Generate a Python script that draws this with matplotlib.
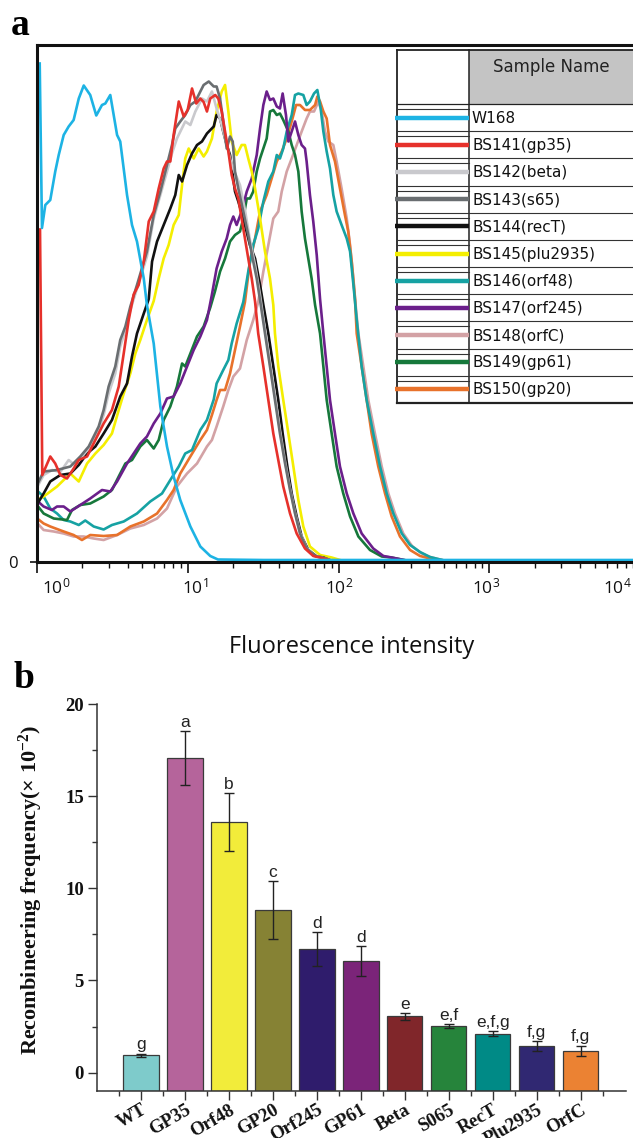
import numpy as np
import matplotlib
matplotlib.use("Agg")
import matplotlib.pyplot as plt
from matplotlib.transforms import ScaledTranslation
from matplotlib.ticker import LogLocator, NullFormatter, FixedLocator
from matplotlib.patches import Rectangle

plt.rcParams['mathtext.default'] = 'regular'

# ---------------- Panel a data: log10 fluorescence intensity vs. count ----------------
w168_lg = [0.018, 0.033, 0.055, 0.088, 0.121, 0.144, 0.177, 0.210, 0.243, 0.277, 0.310, 0.353, 0.393, 0.431, 0.453, 0.486, 0.531, 0.552, 0.597, 0.630, 0.663, 0.708, 0.729, 0.774, 0.818, 0.862, 0.906, 0.950, 1.017, 1.083, 1.149, 1.200, 1.5, 2.5, 3.95]
w168_ct = [99.7, 66.8, 71.4, 72.4, 78.1, 81.4, 85.4, 87.1, 88.4, 92.7, 95.3, 93.4, 89.3, 91.4, 91.7, 93.4, 85.4, 84.1, 73.4, 67.4, 64.1, 56.7, 51.4, 43.7, 31.1, 23.1, 17.1, 12.4, 7.1, 3.1, 1.2, 0.5, 0.4, 0.4, 0.4]

bs141_lg = [0.02, 0.035, 0.088, 0.121, 0.155, 0.199, 0.243, 0.277, 0.332, 0.387, 0.442, 0.497, 0.542, 0.575, 0.608, 0.641, 0.674, 0.708, 0.741, 0.774, 0.807, 0.840, 0.862, 0.884, 0.906, 0.940, 0.973, 0.999, 1.028, 1.056, 1.083, 1.105, 1.127, 1.149, 1.182, 1.202, 1.225, 1.247, 1.269, 1.291, 1.313, 1.335, 1.357, 1.379, 1.401, 1.424, 1.446, 1.467, 1.501, 1.534, 1.567, 1.600, 1.633, 1.678, 1.722, 1.777, 1.832, 1.877, 1.95, 3.95]
bs141_ct = [66.5, 17.4, 21.1, 19.7, 17.4, 16.7, 18.7, 20.4, 21.1, 24.4, 27.7, 30.4, 35.1, 41.7, 48.4, 53.5, 55.4, 60.1, 68.1, 70.1, 74.7, 78.7, 80.1, 80.1, 85.4, 92.1, 89.1, 90.4, 94.7, 91.7, 92.7, 92.0, 90.1, 92.7, 93.4, 92.7, 90.1, 86.1, 82.1, 77.4, 74.7, 72.7, 68.7, 64.7, 60.7, 56.7, 52.1, 45.7, 39.1, 32.4, 25.7, 20.4, 15.1, 9.7, 5.7, 2.7, 1.2, 0.9, 0.3, 0.3]

bs142_lg = [0.01, 0.044, 0.1, 0.155, 0.21, 0.25, 0.287, 0.343, 0.409, 0.442, 0.475, 0.519, 0.552, 0.586, 0.619, 0.663, 0.729, 0.774, 0.818, 0.862, 0.895, 0.928, 0.983, 1.017, 1.050, 1.094, 1.127, 1.160, 1.191, 1.225, 1.258, 1.291, 1.346, 1.379, 1.412, 1.446, 1.479, 1.512, 1.545, 1.578, 1.611, 1.645, 1.678, 1.711, 1.744, 1.788, 1.844, 1.888, 1.95, 3.95]
bs142_ct = [15.5, 17.4, 18.4, 18.0, 20.4, 19.4, 20.7, 22.7, 26.4, 29.4, 33.7, 37.7, 43.1, 46.4, 50.4, 54.7, 61.1, 68.7, 73.4, 78.1, 81.7, 84.7, 88.1, 87.4, 90.1, 92.7, 92.1, 94.1, 90.7, 87.4, 83.4, 79.4, 75.4, 70.4, 64.4, 59.4, 53.4, 46.4, 39.7, 33.1, 26.4, 20.1, 14.7, 9.9, 5.9, 2.8, 1.2, 0.9, 0.3, 0.3]

bs143_lg = [0.01, 0.044, 0.133, 0.221, 0.287, 0.343, 0.409, 0.442, 0.475, 0.519, 0.552, 0.586, 0.619, 0.663, 0.729, 0.774, 0.818, 0.862, 0.895, 0.917, 0.950, 0.983, 1.017, 1.050, 1.083, 1.105, 1.139, 1.172, 1.191, 1.214, 1.235, 1.258, 1.280, 1.298, 1.313, 1.335, 1.368, 1.401, 1.434, 1.457, 1.479, 1.512, 1.545, 1.578, 1.611, 1.645, 1.678, 1.711, 1.744, 1.788, 1.844, 1.888, 1.95, 3.95]
bs143_ct = [16.0, 18.1, 18.4, 19.1, 21.1, 23.1, 27.1, 30.4, 35.1, 39.1, 44.4, 47.1, 51.1, 55.4, 62.1, 69.4, 74.1, 79.4, 83.4, 86.7, 88.1, 89.4, 91.4, 92.1, 94.1, 95.4, 96.1, 95.1, 95.1, 92.7, 88.1, 82.7, 85.1, 84.1, 78.1, 74.7, 70.1, 65.4, 60.1, 56.7, 52.4, 45.7, 39.1, 32.4, 25.7, 19.7, 14.4, 9.7, 5.7, 2.7, 1.2, 0.9, 0.3, 0.3]

bs144_lg = [0.01, 0.044, 0.088, 0.155, 0.221, 0.277, 0.332, 0.387, 0.442, 0.497, 0.552, 0.597, 0.630, 0.663, 0.708, 0.741, 0.763, 0.796, 0.840, 0.884, 0.917, 0.940, 0.962, 0.995, 1.028, 1.061, 1.094, 1.127, 1.172, 1.191, 1.214, 1.235, 1.258, 1.280, 1.313, 1.335, 1.368, 1.412, 1.446, 1.479, 1.501, 1.534, 1.567, 1.600, 1.629, 1.660, 1.689, 1.722, 1.755, 1.799, 1.855, 1.899, 1.95, 3.95]
bs144_ct = [12.0, 13.7, 16.1, 17.4, 17.7, 19.4, 21.7, 23.1, 25.7, 28.4, 33.1, 35.7, 41.1, 45.7, 49.7, 52.6, 60.1, 64.1, 67.4, 70.7, 73.4, 77.4, 76.1, 79.4, 81.7, 83.4, 84.1, 85.7, 87.1, 89.4, 88.7, 86.1, 83.4, 81.4, 74.1, 72.1, 68.7, 63.4, 60.7, 55.4, 51.4, 45.7, 39.1, 32.4, 25.7, 19.1, 13.7, 9.1, 5.1, 2.4, 1.1, 0.9, 0.3, 0.3]

bs145_lg = [0.01, 0.044, 0.133, 0.221, 0.277, 0.332, 0.387, 0.442, 0.497, 0.542, 0.575, 0.619, 0.652, 0.685, 0.729, 0.774, 0.807, 0.840, 0.873, 0.906, 0.940, 0.962, 0.983, 1.006, 1.039, 1.072, 1.105, 1.127, 1.160, 1.191, 1.225, 1.247, 1.269, 1.291, 1.324, 1.357, 1.379, 1.401, 1.424, 1.446, 1.479, 1.512, 1.545, 1.567, 1.578, 1.600, 1.633, 1.667, 1.700, 1.733, 1.766, 1.810, 1.877, 1.954, 2.02, 3.95]
bs145_ct = [12.5, 13.1, 15.1, 17.7, 16.1, 19.7, 21.7, 23.4, 25.7, 30.4, 33.7, 37.7, 41.7, 44.4, 48.4, 52.2, 56.7, 60.7, 63.4, 67.4, 69.4, 75.4, 80.7, 82.7, 80.7, 82.7, 81.1, 82.1, 84.7, 90.1, 94.1, 95.4, 90.1, 84.1, 81.4, 83.4, 83.4, 80.7, 78.1, 74.7, 68.7, 62.1, 56.7, 51.4, 45.7, 39.1, 32.4, 25.7, 19.1, 12.4, 7.1, 3.1, 1.4, 0.9, 0.3, 0.3]

bs146_lg = [0.01, 0.044, 0.088, 0.133, 0.177, 0.221, 0.277, 0.320, 0.376, 0.442, 0.497, 0.575, 0.663, 0.751, 0.829, 0.884, 0.940, 0.983, 1.028, 1.083, 1.127, 1.172, 1.191, 1.235, 1.269, 1.291, 1.324, 1.368, 1.401, 1.434, 1.467, 1.501, 1.534, 1.567, 1.590, 1.611, 1.633, 1.656, 1.689, 1.711, 1.733, 1.766, 1.788, 1.810, 1.837, 1.859, 1.881, 1.899, 1.921, 1.943, 1.965, 1.987, 2.020, 2.054, 2.076, 2.098, 2.120, 2.153, 2.186, 2.230, 2.275, 2.319, 2.363, 2.419, 2.474, 2.540, 2.606, 2.70, 3.95]
bs146_ct = [14.0, 13.1, 10.7, 9.7, 8.4, 8.1, 7.4, 8.3, 7.1, 6.5, 7.4, 8.1, 9.7, 12.1, 13.7, 16.4, 19.1, 21.7, 22.4, 26.4, 28.4, 32.5, 35.7, 38.4, 40.4, 43.7, 47.7, 52.0, 58.1, 63.4, 66.7, 72.1, 76.1, 78.1, 81.4, 80.7, 82.7, 86.1, 89.4, 93.4, 93.7, 93.4, 91.4, 92.1, 93.7, 94.4, 90.7, 86.1, 82.1, 78.7, 73.4, 70.1, 67.4, 64.7, 62.1, 55.5, 48.5, 39.1, 32.4, 25.7, 19.1, 13.7, 9.7, 5.7, 3.4, 2.0, 1.0, 0.3, 0.3]

bs147_lg = [0.01, 0.044, 0.099, 0.133, 0.177, 0.221, 0.287, 0.353, 0.431, 0.486, 0.531, 0.597, 0.641, 0.685, 0.729, 0.774, 0.818, 0.862, 0.906, 0.950, 0.995, 1.039, 1.083, 1.127, 1.160, 1.191, 1.225, 1.258, 1.280, 1.302, 1.324, 1.357, 1.391, 1.424, 1.457, 1.479, 1.501, 1.523, 1.545, 1.567, 1.590, 1.611, 1.629, 1.651, 1.667, 1.689, 1.711, 1.733, 1.755, 1.777, 1.788, 1.810, 1.832, 1.855, 1.877, 1.899, 1.921, 1.943, 1.976, 2.009, 2.054, 2.098, 2.153, 2.230, 2.297, 2.352, 2.45, 3.95]
bs147_ct = [12.0, 11.1, 10.4, 11.1, 11.1, 10.1, 11.4, 12.7, 14.4, 14.1, 16.1, 19.7, 21.7, 23.7, 25.1, 27.7, 29.7, 32.7, 33.1, 35.7, 39.1, 42.4, 45.1, 48.4, 53.5, 58.7, 62.1, 64.7, 67.4, 69.1, 67.4, 70.1, 74.1, 76.7, 81.4, 86.7, 91.4, 94.1, 92.4, 92.7, 91.1, 90.7, 93.7, 89.4, 84.1, 86.1, 88.1, 85.4, 83.4, 82.7, 80.1, 73.4, 68.1, 61.4, 52.6, 45.7, 39.1, 32.4, 25.7, 19.1, 13.7, 9.7, 5.7, 2.7, 1.2, 0.9, 0.3, 0.3]

bs148_lg = [0.01, 0.044, 0.111, 0.177, 0.243, 0.310, 0.376, 0.442, 0.531, 0.619, 0.708, 0.796, 0.862, 0.928, 0.995, 1.061, 1.127, 1.160, 1.191, 1.235, 1.269, 1.302, 1.346, 1.391, 1.434, 1.467, 1.501, 1.534, 1.567, 1.600, 1.623, 1.656, 1.689, 1.722, 1.755, 1.788, 1.810, 1.837, 1.866, 1.888, 1.910, 1.932, 1.965, 1.987, 2.020, 2.054, 2.076, 2.098, 2.113, 2.131, 2.164, 2.197, 2.241, 2.286, 2.330, 2.374, 2.429, 2.487, 2.546, 2.606, 2.70, 3.95]
bs148_ct = [7.5, 6.4, 6.1, 5.7, 5.1, 5.1, 4.7, 4.4, 5.4, 6.7, 7.4, 8.7, 10.7, 15.1, 17.7, 19.7, 23.1, 24.4, 27.1, 31.1, 34.4, 37.1, 38.7, 44.4, 48.4, 52.0, 58.1, 63.4, 68.7, 70.1, 74.1, 78.1, 80.7, 83.4, 86.1, 88.7, 90.1, 90.1, 92.1, 90.1, 86.1, 84.1, 83.4, 80.1, 74.7, 68.7, 63.4, 56.7, 51.4, 45.7, 39.1, 32.4, 25.7, 19.1, 13.7, 9.7, 5.7, 3.2, 1.8, 1.0, 0.3, 0.3]

bs149_lg = [0.01, 0.044, 0.111, 0.199, 0.232, 0.287, 0.353, 0.442, 0.497, 0.542, 0.586, 0.630, 0.685, 0.729, 0.774, 0.807, 0.840, 0.884, 0.928, 0.962, 0.983, 1.017, 1.061, 1.105, 1.149, 1.180, 1.214, 1.247, 1.280, 1.313, 1.346, 1.368, 1.391, 1.412, 1.434, 1.457, 1.479, 1.501, 1.523, 1.545, 1.567, 1.590, 1.611, 1.633, 1.667, 1.689, 1.711, 1.733, 1.755, 1.777, 1.799, 1.821, 1.844, 1.877, 1.899, 1.921, 1.954, 1.987, 2.031, 2.076, 2.131, 2.208, 2.286, 2.35, 2.45, 3.95]
bs149_ct = [11.0, 9.7, 8.7, 8.4, 10.4, 11.4, 11.7, 13.1, 14.4, 17.1, 19.7, 20.4, 23.1, 24.4, 22.7, 24.4, 28.4, 31.1, 35.1, 39.7, 39.1, 41.7, 45.1, 47.1, 50.9, 54.1, 58.1, 60.7, 64.1, 65.4, 66.1, 68.7, 72.7, 72.7, 74.1, 78.1, 80.7, 82.7, 84.7, 90.1, 90.4, 89.4, 89.7, 88.4, 86.1, 83.4, 81.4, 78.1, 70.1, 64.7, 60.7, 56.7, 51.4, 45.7, 39.1, 32.4, 25.7, 19.1, 13.7, 9.1, 5.1, 2.4, 1.1, 0.9, 0.3, 0.3]

bs150_lg = [0.01, 0.044, 0.088, 0.177, 0.243, 0.298, 0.353, 0.442, 0.531, 0.619, 0.708, 0.796, 0.862, 0.906, 0.950, 1.017, 1.083, 1.127, 1.160, 1.191, 1.214, 1.247, 1.280, 1.313, 1.346, 1.379, 1.412, 1.446, 1.479, 1.523, 1.556, 1.590, 1.623, 1.656, 1.689, 1.718, 1.744, 1.777, 1.810, 1.844, 1.859, 1.877, 1.899, 1.921, 1.943, 1.976, 2.009, 2.042, 2.064, 2.087, 2.109, 2.120, 2.153, 2.186, 2.219, 2.263, 2.308, 2.352, 2.407, 2.474, 2.540, 2.593, 2.70, 3.95]
bs150_ct = [8.5, 7.7, 7.1, 6.1, 5.4, 4.4, 5.4, 5.2, 5.4, 7.1, 8.1, 9.7, 12.4, 14.4, 17.7, 21.1, 24.4, 26.4, 29.4, 32.4, 34.4, 34.4, 37.7, 42.4, 47.1, 52.0, 60.1, 64.7, 70.1, 73.4, 76.7, 80.1, 82.1, 84.7, 88.1, 91.4, 91.4, 90.4, 90.4, 91.4, 93.1, 92.1, 90.1, 88.7, 83.4, 80.1, 74.7, 69.4, 66.1, 60.1, 52.6, 45.7, 39.1, 32.4, 25.7, 19.1, 13.7, 9.1, 5.1, 2.4, 1.2, 0.8, 0.3, 0.3]

sample_names = ["W168", "BS141(gp35)", "BS142(beta)", "BS143(s65)", "BS144(recT)",
                "BS145(plu2935)", "BS146(orf48)", "BS147(orf245)", "BS148(orfC)",
                "BS149(gp61)", "BS150(gp20)"]
sample_colors = ["#1db3e4", "#e6312b", "#c9c9cd", "#6a6e71", "#111111", "#f4ee00",
                 "#16a2a3", "#6b1f8b", "#d3a2a5", "#16783b", "#e8722b"]
sample_lg = [w168_lg, bs141_lg, bs142_lg, bs143_lg, bs144_lg, bs145_lg,
             bs146_lg, bs147_lg, bs148_lg, bs149_lg, bs150_lg]
sample_ct = [w168_ct, bs141_ct, bs142_ct, bs143_ct, bs144_ct, bs145_ct,
             bs146_ct, bs147_ct, bs148_ct, bs149_ct, bs150_ct]
draw_order = [8, 10, 6, 9, 7, 5, 4, 2, 3, 1, 0]

xtick_vals = [1, 10, 100, 1000, 10000]
xtick_labels = ["$10^{0}$", "$10^{1}$", "$10^{2}$", "$10^{3}$", "$10^{4}$"]

# ---------------- Panel b data ----------------
strains = ["WT", "GP35", "Orf48", "GP20", "Orf245", "GP61", "Beta", "S065", "RecT", "Plu2935", "OrfC"]
freq = [0.94, 17.07, 13.60, 8.81, 6.69, 6.06, 3.05, 2.51, 2.11, 1.43, 1.17]
freq_err = [0.09, 1.47, 1.57, 1.57, 0.92, 0.81, 0.18, 0.10, 0.15, 0.27, 0.28]
sig_letters = ["g", "a", "b", "c", "d", "d", "e", "e,f", "e,f,g", "f,g", "f,g"]
bar_colors = ["#7ecbcb", "#b5649b", "#f2ec3a", "#868234", "#2f1c6c", "#7b2479",
              "#80262a", "#26843b", "#008a86", "#302872", "#eb8233"]
bar_base = -1.0

# ---------------- Figure ----------------
W, H = 633, 1138
fig = plt.figure(figsize=(W / 100, H / 100), dpi=100)
fig.patch.set_facecolor("white")

SANS = "Open Sans"
SERIF = "Liberation Serif"

# ---- panel a ----
ax1 = fig.add_axes([37 / W, 1 - 562 / H, (640.2 - 37) / W, (562 - 45) / H])
for i in draw_order:
    lg = sample_lg[i]
    ct = sample_ct[i]
    assert len(lg) == len(ct), sample_names[i]
    ax1.plot(10 ** np.array(lg), ct, color=sample_colors[i], lw=1.9,
             solid_joinstyle="round", zorder=2 + draw_order.index(i) * 0.01)
ax1.set_xscale("log")
ax1.set_xlim(1, 1e4)
ax1.set_ylim(0, 103.4)
ax1.spines["right"].set_visible(False)
for s in ["left", "top", "bottom"]:
    ax1.spines[s].set_linewidth(2.2)
    ax1.spines[s].set_color("#111111")
ax1.set_xticks(xtick_vals, xtick_labels, fontsize=12.5, family=SANS)
ax1.xaxis.set_minor_locator(LogLocator(base=10, subs=np.arange(2, 10)))
ax1.xaxis.set_minor_formatter(NullFormatter())
ax1.tick_params(axis="x", which="major", direction="out", length=8, width=1.2, pad=3, colors="#111111")
ax1.tick_params(axis="x", which="minor", direction="out", length=4.5, width=1.0, colors="#111111")
ax1.set_yticks([0], ["0"], fontsize=12, family=SANS)
ax1.tick_params(axis="y", direction="out", length=5, width=1.2, pad=9, colors="#111111")
for lab, dx in zip(ax1.get_xticklabels(), [19, 7, 1, -3, -23]):
    lab.set_transform(lab.get_transform() + ScaledTranslation(dx / 100, 0, fig.dpi_scale_trans))

# overlay in pixel coordinates for the legend table and panel texts
ov = fig.add_axes([0, 0, 1, 1], zorder=10)
ov.set_xlim(0, W)
ov.set_ylim(H, 0)
ov.axis("off")

L, M, R = 397, 469, 650
T, HB, B = 50, 104, 403
rowh = (B - HB) / len(sample_names)
ov.add_patch(Rectangle((L, T), R - L, B - T, facecolor="white", edgecolor="none", zorder=1))
ov.add_patch(Rectangle((M, T), R - M, HB - T, facecolor="#c4c4c4", edgecolor="none", zorder=1))
ov.plot([L, R], [T, T], color="#222222", lw=1.3, zorder=3)
ov.plot([L, R], [B, B], color="#222222", lw=1.6, zorder=3)
ov.plot([L, L], [T, B], color="#222222", lw=1.3, zorder=3)
ov.plot([M, M], [T, B], color="#222222", lw=1.1, zorder=3)
ov.plot([L, R], [HB, HB], color="#222222", lw=0.9, zorder=3)
ov.text((M + R - 17) / 2, 67, "Sample Name", ha="center", va="center", fontsize=12,
        family="DejaVu Sans", color="#222222", zorder=4)
for k, (nm, col) in enumerate(zip(sample_names, sample_colors)):
    top = HB + k * rowh
    bot = top + rowh
    mid = (top + bot) / 2
    if k < len(sample_names) - 1:
        ov.plot([L, R], [bot, bot], color="#333333", lw=0.8, zorder=3)
    ov.plot([L, M], [top + 5, top + 5], color="#333333", lw=0.8, zorder=3)
    ov.plot([L - 2, M], [mid, mid], color=col, lw=3.2, solid_capstyle="butt", zorder=4)
    ov.text(M + 3, mid + 0.5, nm, ha="left", va="center", fontsize=11, family="DejaVu Sans",
            color="#111111", zorder=4)

ov.text(352, 653, "Fluorescence intensity", ha="center", va="baseline", fontsize=17,
        family=SANS, color="#111111")
ov.text(11, 35, "a", ha="left", va="baseline", fontsize=27, weight="bold", family=SERIF)
ov.text(13, 688, "b", ha="left", va="baseline", fontsize=27, weight="bold", family=SERIF)

# ---- panel b ----
ax2 = fig.add_axes([97 / W, (H - 1091) / H, (625.8 - 97) / W, (1091 - 704) / H])
xpos = np.arange(len(strains))
ax2.bar(xpos, np.array(freq) - bar_base, bottom=bar_base, width=0.81, color=bar_colors,
        edgecolor="#3a3a3a", linewidth=0.9, zorder=2)
ax2.errorbar(xpos, freq, yerr=freq_err, fmt="none", ecolor="#222222", elinewidth=1.0,
             capsize=3.5, capthick=1.0, zorder=3)
for xi, v, e, t in zip(xpos, freq, freq_err, sig_letters):
    ax2.annotate(t, (xi, v + e), xytext=(0, 1.0), textcoords="offset points",
                 ha="center", va="bottom", fontsize=12.5, family="Liberation Sans",
                 color="#222222")
ax2.set_xlim(-1, 11.03)
ax2.set_ylim(-1, 20)
for s in ["top", "right"]:
    ax2.spines[s].set_visible(False)
for s in ["left", "bottom"]:
    ax2.spines[s].set_linewidth(1.1)
    ax2.spines[s].set_color("#333333")
ax2.set_yticks([0, 5, 10, 15, 20], ["0", "5", "10", "15", "20"], fontsize=13.5,
               fontweight="bold", family=SERIF)
ax2.yaxis.set_minor_locator(FixedLocator([2.5, 7.5, 12.5, 17.5]))
ax2.set_xticks(xpos, strains, rotation=30, ha="right", rotation_mode="anchor",
               fontsize=13.5, fontweight="bold", family=SERIF)
ax2.xaxis.set_minor_locator(FixedLocator(np.arange(-0.5, 11, 1.0)))
ax2.tick_params(which="major", direction="out", length=6.5, width=1.0, colors="#333333",
                labelcolor="#111111")
ax2.tick_params(which="minor", direction="out", length=3.6, width=1.0, colors="#333333")
ax2.tick_params(axis="x", which="major", pad=1.0)
ax2.tick_params(axis="y", which="major", pad=3)

ov.text(31, 890, "Recombineering frequency(\u00d7 10$^{-2}$)", rotation=90, ha="center",
        va="center", fontsize=16, fontweight="bold", family=SERIF, color="#111111")

fig.savefig("out.png", dpi=100)
